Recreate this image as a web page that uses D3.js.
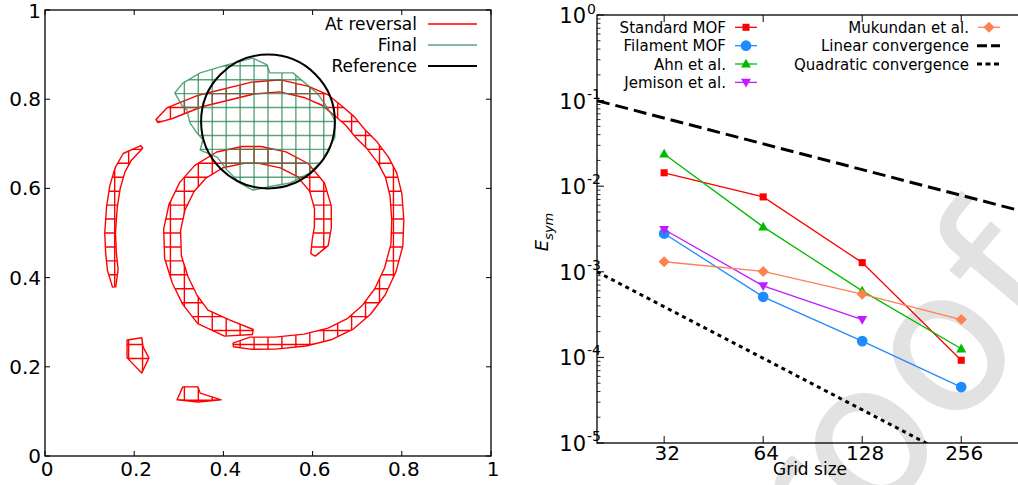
<!DOCTYPE html>
<html><head><meta charset="utf-8">
<script src="https://cdn.jsdelivr.net/npm/d3@7"></script>
<style>
html,body{margin:0;padding:0;background:#fff;}
svg{display:block;font-family:"DejaVu Sans",sans-serif;}
</style></head><body>
<svg id="fig" width="1018" height="485"></svg>
<script>
// ---------- Left panel: interface geometry on the unit square ----------
const gridN = 32;                       // mesh resolution (cells per side)
const unitTicks = [0, 0.2, 0.4, 0.6, 0.8, 1];
const unitTickLabels = ["0", "0.2", "0.4", "0.6", "0.8", "1"];

// centre lines of the filament pieces at flow reversal
const outerArc = [[0.251,0.751],[0.280,0.769],[0.348,0.796],[0.466,0.825],[0.527,0.830],[0.587,0.816],
  [0.628,0.798],[0.661,0.771],[0.684,0.751],[0.706,0.724],[0.733,0.697],[0.758,0.664],[0.776,0.630],
  [0.787,0.585],[0.791,0.529],[0.789,0.473],[0.774,0.417],[0.751,0.368],[0.720,0.327],[0.684,0.296],
  [0.639,0.274],[0.583,0.260],[0.516,0.253],[0.460,0.253],[0.422,0.249]];
const innerArc = [[0.466,0.278],[0.408,0.287],[0.354,0.312],[0.325,0.350],[0.303,0.395],[0.287,0.446],
  [0.285,0.507],[0.296,0.558],[0.318,0.603],[0.348,0.637],[0.392,0.664],[0.444,0.675],[0.482,0.675],
  [0.534,0.664],[0.578,0.641],[0.610,0.603],[0.623,0.558],[0.623,0.513],[0.617,0.478],[0.601,0.451]];
const leftArc = [[0.217,0.693],[0.184,0.670],[0.168,0.641],[0.157,0.603],[0.150,0.558],[0.146,0.500],
  [0.148,0.455],[0.152,0.417],[0.155,0.379]];
const arcHalfWidths = [0.0135, 0.019, 0.012];

// small detached fragments (outlines)
const fragmentMid = [[0.184,0.260],[0.217,0.265],[0.220,0.244],[0.233,0.220],[0.217,0.186],[0.184,0.220]];
const fragmentLow = [[0.309,0.155],[0.343,0.155],[0.348,0.141],[0.395,0.126],[0.343,0.121],[0.296,0.126]];

// final shape outline
const finalShape = [[0.291,0.814],[0.309,0.836],[0.348,0.859],[0.408,0.877],[0.466,0.892],[0.498,0.877],
  [0.504,0.859],[0.556,0.859],[0.594,0.827],[0.610,0.814],[0.632,0.783],[0.650,0.753],[0.650,0.715],
  [0.623,0.664],[0.594,0.635],[0.549,0.612],[0.498,0.603],[0.466,0.596],[0.437,0.612],[0.408,0.641],
  [0.386,0.670],[0.348,0.686],[0.354,0.709],[0.341,0.724],[0.325,0.747],[0.318,0.776],[0.309,0.783]];

// reference circle
const refCenter = [0.5, 0.75];
const refRadius = 0.15;

const leftLegend = ["At reversal", "Final", "Reference"];

// ---------- Right panel: symmetric-difference error vs grid size ----------
const gridSizes = [32, 64, 128, 256];
const gridLabels = ["32", "64", "128", "256"];
const standardMOF = [1.435e-2, 7.5e-3, 1.28e-3, 9.25e-5];
const filamentMOF = [2.8e-3, 5.1e-4, 1.55e-4, 4.5e-5];
const ahnEtAl     = [2.38e-2, 3.35e-3, 5.98e-4, 1.26e-4];
const jemisonEtAl = [3.12e-3, 6.85e-4, 2.77e-4];
const mukundanEtAl = [1.31e-3, 1.01e-3, 5.47e-4, 2.77e-4];
const linearRef = [[20, 1e-1], [400, 5e-3]];
const quadraticRef = [[20, 1e-3], [400, 2.5e-6]];
const decadeExps = [0, -1, -2, -3, -4, -5];

const seriesNames = ["Standard MOF", "Filament MOF", "Ahn et al.", "Jemison et al.", "Mukundan et al."];
const seriesColors = ["#ff0000", "#1e8cff", "#00bb00", "#c21bff", "#ff8050"];
const seriesMarkers = ["square", "circle", "triUp", "triDown", "diamond"];
const refNames = ["Linear convergence", "Quadratic convergence"];

// ---------------------------------------------------------------
const svg = d3.select("#fig");

// faint background stamp
svg.append("text")
  .attr("transform", "translate(1074,290) rotate(-50)")
  .attr("text-anchor", "end")
  .style("font-family", "'DejaVu Sans', sans-serif")
  .style("font-size", "198px")
  .attr("fill", "#e2e2e2")
  .text("Journal Pre-proof");

// ================= left panel =================
const xL = d3.scaleLinear().domain([0, 1]).range([45, 491]);
const yL = d3.scaleLinear().domain([0, 1]).range([456, 10]);
const gL = svg.append("g");
const lineL = d3.line().x(d => xL(d[0])).y(d => yL(d[1]));

function bandOutline(pts, hw) {
  const n = pts.length, a = [], b = [];
  pts.forEach((p, i) => {
    const p0 = pts[Math.max(0, i - 1)], p1 = pts[Math.min(n - 1, i + 1)];
    let tx = p1[0] - p0[0], ty = p1[1] - p0[1];
    const L = Math.hypot(tx, ty); tx /= L; ty /= L;
    const w = (i === 0 || i === n - 1) ? hw * 0.3 : hw;
    a.push([p[0] - ty * w, p[1] + tx * w]);
    b.push([p[0] + ty * w, p[1] - tx * w]);
  });
  return a.concat(b.reverse());
}

const gridLines = [];
for (let k = 0; k <= gridN; k++) {
  gridLines.push([[k / gridN, 0], [k / gridN, 1]]);
  gridLines.push([[0, k / gridN], [1, k / gridN]]);
}

const defs = svg.append("defs");
function meshedShape(outline, id, color, width, opacity) {
  defs.append("clipPath").attr("id", id)
    .append("path").attr("d", lineL(outline) + "Z");
  const g = gL.append("g").attr("stroke-opacity", opacity);
  g.append("g").attr("clip-path", `url(#${id})`)
    .selectAll("path").data(gridLines).join("path")
    .attr("d", lineL).attr("fill", "none")
    .attr("stroke", color).attr("stroke-width", width);
  g.append("path").attr("d", lineL(outline) + "Z")
    .attr("fill", "none").attr("stroke", color)
    .attr("stroke-width", width).attr("stroke-linejoin", "round");
}

const redShapes = [outerArc, innerArc, leftArc].map((c, i) => bandOutline(c, arcHalfWidths[i]))
  .concat([fragmentMid, fragmentLow]);
redShapes.forEach((s, i) => meshedShape(s, "red" + i, "#ff0000", 1.4, 1));
meshedShape(finalShape, "green0", "#2e8b57", 1.4, 0.78);

gL.append("circle")
  .attr("cx", xL(refCenter[0])).attr("cy", yL(refCenter[1]))
  .attr("r", xL(refRadius) - xL(0))
  .attr("fill", "none").attr("stroke", "#000").attr("stroke-width", 2);

// frame + inward ticks
gL.append("rect").attr("x", xL(0)).attr("y", yL(1))
  .attr("width", xL(1) - xL(0)).attr("height", yL(0) - yL(1))
  .attr("fill", "none").attr("stroke", "#000").attr("stroke-width", 1.3);
unitTicks.forEach((t, i) => {
  const tk = [[xL(t), yL(0), xL(t), yL(0) - 5], [xL(t), yL(1), xL(t), yL(1) + 5],
              [xL(0), yL(t), xL(0) + 5, yL(t)], [xL(1), yL(t), xL(1) - 5, yL(t)]];
  tk.forEach(k => gL.append("line").attr("x1", k[0]).attr("y1", k[1]).attr("x2", k[2]).attr("y2", k[3])
    .attr("stroke", "#000").attr("stroke-width", 1));
  gL.append("text").attr("x", xL(t) + 2).attr("y", yL(0) + 20)
    .attr("text-anchor", "middle").style("font-size", "20px").text(unitTickLabels[i]);
  gL.append("text").attr("x", xL(0) - 4).attr("y", Math.max(yL(t) + 7, 18))
    .attr("text-anchor", "end").style("font-size", "20px").text(unitTickLabels[i]);
});

// legend
const legCols = ["#ff0000", "#2e8b57", "#000"];
leftLegend.forEach((name, i) => {
  const yy = 24 + i * 21;
  gL.append("text").attr("x", 417).attr("y", yy + 6).attr("text-anchor", "end")
    .style("font-size", "17px").text(name);
  gL.append("line").attr("x1", 428).attr("x2", 477).attr("y1", yy).attr("y2", yy)
    .attr("stroke", legCols[i]).attr("stroke-width", i === 2 ? 2 : 1.4)
    .attr("stroke-opacity", i === 1 ? 0.78 : 1);
});

// ================= right panel =================
const xR = d3.scaleLog().base(2).domain([20, 400]).range([597, 1025]);
const yR = d3.scaleLog().domain([1e-5, 1]).range([443, 15]);
const gR = svg.append("g");

defs.append("clipPath").attr("id", "plotR").append("rect")
  .attr("x", xR(20)).attr("y", yR(1)).attr("width", xR(400) - xR(20)).attr("height", yR(1e-5) - yR(1));

const lineR = d3.line().x(d => xR(d[0])).y(d => yR(d[1]));
const refG = gR.append("g").attr("clip-path", "url(#plotR)");
refG.append("path").attr("d", lineR(linearRef)).attr("fill", "none")
  .attr("stroke", "#000").attr("stroke-width", 3).attr("stroke-dasharray", "13,6");
refG.append("path").attr("d", lineR(quadraticRef)).attr("fill", "none")
  .attr("stroke", "#000").attr("stroke-width", 3).attr("stroke-dasharray", "4,4");

function markerPath(kind) {
  switch (kind) {
    case "square": return d3.symbol(d3.symbolSquare, 50)();
    case "circle": return d3.symbol(d3.symbolCircle, 90)();
    case "triUp": return "M0,-5.2L5,3.6L-5,3.6Z";
    case "triDown": return "M0,5.2L5,-3.6L-5,-3.6Z";
    case "diamond": return "M0,-5.5L5.5,0L0,5.5L-5.5,0Z";
  }
}

const allSeries = [standardMOF, filamentMOF, ahnEtAl, jemisonEtAl, mukundanEtAl];
allSeries.forEach((vals, s) => {
  const pts = vals.map((v, i) => [gridSizes[i], v]);
  const g = gR.append("g");
  g.append("path").attr("d", lineR(pts)).attr("fill", "none")
    .attr("stroke", seriesColors[s]).attr("stroke-width", 1.3);
  g.selectAll("path.m").data(pts).join("path").attr("class", "m")
    .attr("transform", d => `translate(${xR(d[0])},${yR(d[1])})`)
    .attr("d", markerPath(seriesMarkers[s])).attr("fill", seriesColors[s]);
});

// frame
gR.append("rect").attr("x", xR(20)).attr("y", yR(1))
  .attr("width", xR(400) - xR(20)).attr("height", yR(1e-5) - yR(1))
  .attr("fill", "none").attr("stroke", "#000").attr("stroke-width", 1.3);

// y ticks (major + minor, inward) and labels
decadeExps.forEach(e => {
  const v = Math.pow(10, e);
  [[xR(20), 7], [xR(400), -7]].forEach(([x0, l]) =>
    gR.append("line").attr("x1", x0).attr("x2", x0 + l).attr("y1", yR(v)).attr("y2", yR(v))
      .attr("stroke", "#000").attr("stroke-width", 1));
  if (e > -5) {
    for (let m = 2; m <= 9; m++) {
      const mv = m * Math.pow(10, e - 1);
      [[xR(20), 3.5], [xR(400), -3.5]].forEach(([x0, l]) =>
        gR.append("line").attr("x1", x0).attr("x2", x0 + l).attr("y1", yR(mv)).attr("y2", yR(mv))
          .attr("stroke", "#000").attr("stroke-width", 0.8));
    }
  }
  gR.append("text").attr("x", 586).attr("y", yR(v) + 8).attr("text-anchor", "end")
    .style("font-size", "21px").text("10");
  gR.append("text").attr("x", 587).attr("y", Math.max(yR(v) - 2, 14)).attr("text-anchor", "start")
    .style("font-size", "14px").text(String(e));
});

// x ticks and labels
gridSizes.forEach((gs, i) => {
  [[yR(1e-5), -7], [yR(1), 7]].forEach(([y0, l]) =>
    gR.append("line").attr("x1", xR(gs)).attr("x2", xR(gs)).attr("y1", y0).attr("y2", y0 + l)
      .attr("stroke", "#000").attr("stroke-width", 1));
  gR.append("text").attr("x", xR(gs) + 3).attr("y", 460).attr("text-anchor", "middle")
    .style("font-size", "20px").text(gridLabels[i]);
});

gR.append("text").attr("x", 810).attr("y", 475).attr("text-anchor", "middle")
  .style("font-size", "17px").text("Grid size");

const yl = gR.append("text").attr("transform", "translate(548,232) rotate(-90)")
  .attr("text-anchor", "middle").style("font-size", "18px").style("font-style", "italic");
yl.append("tspan").text("E");
yl.append("tspan").attr("dy", 5).style("font-size", "13px").text("sym");

// legend (two columns, label then handle)
const legRows = [27.3, 45.7, 64, 82.4];
seriesNames.forEach((name, s) => {
  const col = s < 4 ? 0 : 1, row = s < 4 ? s : 0;
  const xr = col === 0 ? 726 : 969, yy = legRows[row];
  gR.append("text").attr("x", xr).attr("y", yy + 5.5).attr("text-anchor", "end")
    .style("font-size", "15px").text(name);
  gR.append("line").attr("x1", xr + 9).attr("x2", xr + 31).attr("y1", yy).attr("y2", yy)
    .attr("stroke", seriesColors[s]).attr("stroke-width", 1.3);
  gR.append("path").attr("transform", `translate(${xr + 20},${yy})`)
    .attr("d", markerPath(seriesMarkers[s])).attr("fill", seriesColors[s]);
});
refNames.forEach((name, i) => {
  const yy = legRows[i + 1];
  gR.append("text").attr("x", 969).attr("y", yy + 5.5).attr("text-anchor", "end")
    .style("font-size", "15px").text(name);
  gR.append("line").attr("x1", 977).attr("x2", 1000).attr("y1", yy).attr("y2", yy)
    .attr("stroke", "#000").attr("stroke-width", 3)
    .attr("stroke-dasharray", i === 0 ? "10,4" : "5,3.5");
});
</script>
</body></html>
